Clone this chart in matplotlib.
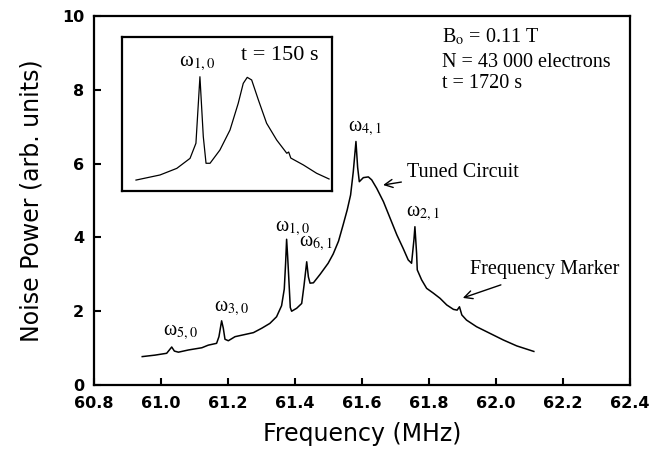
import matplotlib
matplotlib.use("Agg")
import matplotlib.pyplot as plt

plt.rcParams['mathtext.fontset'] = 'stix'

# main spectrum, t = 1720 s
freq = [60.944, 60.982, 61.017, 61.025, 61.032, 61.040, 61.052, 61.082, 61.122,
        61.141, 61.166, 61.173, 61.181, 61.186, 61.191, 61.201, 61.221, 61.251,
        61.276, 61.301, 61.325, 61.345, 61.360, 61.368, 61.372, 61.375, 61.378,
        61.382, 61.386, 61.390, 61.405, 61.420, 61.427, 61.435, 61.440, 61.445,
        61.455, 61.475, 61.499, 61.514, 61.530, 61.544, 61.556, 61.566, 61.574,
        61.582, 61.587, 61.592, 61.604, 61.619, 61.629, 61.644, 61.664, 61.684,
        61.704, 61.723, 61.738, 61.748, 61.755, 61.758, 61.763, 61.765, 61.778,
        61.793, 61.813, 61.833, 61.853, 61.873, 61.884, 61.891, 61.898, 61.912,
        61.942, 61.982, 62.022, 62.062, 62.113]
power = [0.77, 0.81, 0.86, 0.95, 1.03, 0.92, 0.89, 0.95, 1.01,
         1.08, 1.13, 1.31, 1.74, 1.54, 1.24, 1.20, 1.31, 1.37,
         1.42, 1.54, 1.67, 1.85, 2.15, 2.60, 3.30, 3.95, 3.50,
         2.80, 2.10, 2.00, 2.08, 2.21, 2.70, 3.34, 2.93, 2.76,
         2.77, 3.00, 3.30, 3.55, 3.90, 4.35, 4.75, 5.15, 5.78,
         6.60, 5.90, 5.51, 5.62, 5.64, 5.56, 5.33, 4.97, 4.52,
         4.07, 3.70, 3.39, 3.30, 3.93, 4.29, 3.57, 3.12, 2.85,
         2.62, 2.49, 2.35, 2.17, 2.05, 2.03, 2.12, 1.90, 1.76,
         1.58, 1.40, 1.22, 1.06, 0.91]

# inset spectrum, t = 150 s (arbitrary inset units)
inset_x = [0.068, 0.182, 0.262, 0.325, 0.353, 0.372, 0.388, 0.401, 0.420, 0.467,
           0.515, 0.554, 0.578, 0.597, 0.618, 0.650, 0.689, 0.737, 0.785, 0.794,
           0.804, 0.864, 0.927, 0.986]
inset_y = [0.071, 0.104, 0.147, 0.212, 0.310, 0.742, 0.353, 0.180, 0.180, 0.266,
           0.396, 0.569, 0.699, 0.738, 0.721, 0.591, 0.440, 0.331, 0.245, 0.253,
           0.214, 0.169, 0.115, 0.078]

xticks = [60.8, 61.0, 61.2, 61.4, 61.6, 61.8, 62.0, 62.2, 62.4]
yticks = [0, 2, 4, 6, 8, 10]

# peak labels: (text, x, y)
peaks = [('ω$_{5,0}$', 61.057, 1.44),
         ('ω$_{3,0}$', 61.211, 2.09),
         ('ω$_{1,0}$', 61.391, 4.25),
         ('ω$_{6,1}$', 61.462, 3.85),
         ('ω$_{4,1}$', 61.609, 6.96),
         ('ω$_{2,1}$', 61.781, 4.66)]

serif = 'Liberation Serif'

fig = plt.figure(figsize=(6.5, 4.55), dpi=100)
ax = fig.add_axes([0.1446, 0.1538, 0.8246, 0.811])

ax.plot(freq, power, color='black', lw=1.1)
ax.set_xlim(60.8, 62.4)
ax.set_ylim(0, 10)
ax.set_xticks(xticks)
ax.set_yticks(yticks)
ax.set_xticklabels(['%.1f' % t for t in xticks], fontweight='bold', fontsize=11.5)
ax.set_yticklabels([str(t) for t in yticks], fontweight='bold', fontsize=11.5)
ax.tick_params(direction='in', length=5, width=1.5)
ax.tick_params(axis='x', pad=8)
ax.tick_params(axis='y', pad=7)
for s in ax.spines.values():
    s.set_linewidth(1.6)

ax.set_xlabel('Frequency (MHz)', fontsize=17, labelpad=8)
ax.set_ylabel('Noise Power (arb. units)', fontsize=17, labelpad=13)

for txt, x, y in peaks:
    ax.text(x, y, txt, fontsize=14.5, family=serif, ha='center', va='center')

ax.annotate('Tuned Circuit', xy=(61.663, 5.42), xytext=(61.734, 5.77),
            fontsize=14.5, family=serif, va='center', ha='left',
            arrowprops=dict(arrowstyle='->', color='black', lw=1.0, shrinkA=2, shrinkB=0))
ax.annotate('Frequency Marker', xy=(61.901, 2.36), xytext=(61.922, 3.12),
            fontsize=14.5, family=serif, va='center', ha='left',
            arrowprops=dict(arrowstyle='->', color='black', lw=1.0, shrinkA=6, shrinkB=0))

ax.text(61.838, 9.43, r'B$_\mathrm{o}$ = 0.11 T', fontsize=14.5, family=serif, va='center')
ax.text(61.838, 8.75, 'N = 43 000 electrons', fontsize=14.5, family=serif, va='center')
ax.text(61.838, 8.18, 't = 1720 s', fontsize=14.5, family=serif, va='center')

# inset
ins = fig.add_axes([121.7 / 650, 1 - 191 / 455, 210.3 / 650, 154 / 455])
ins.plot(inset_x, inset_y, color='black', lw=0.9)
ins.set_xlim(0, 1)
ins.set_ylim(0, 1)
ins.set_xticks([])
ins.set_yticks([])
for s in ins.spines.values():
    s.set_linewidth(1.6)
ins.text(0.358, 0.831, 'ω$_{1,0}$', fontsize=15, family=serif, ha='center', va='center')
ins.text(0.753, 0.883, 't = 150 s', fontsize=16, family=serif, ha='center', va='center')

fig.savefig('out.png', dpi=100)
